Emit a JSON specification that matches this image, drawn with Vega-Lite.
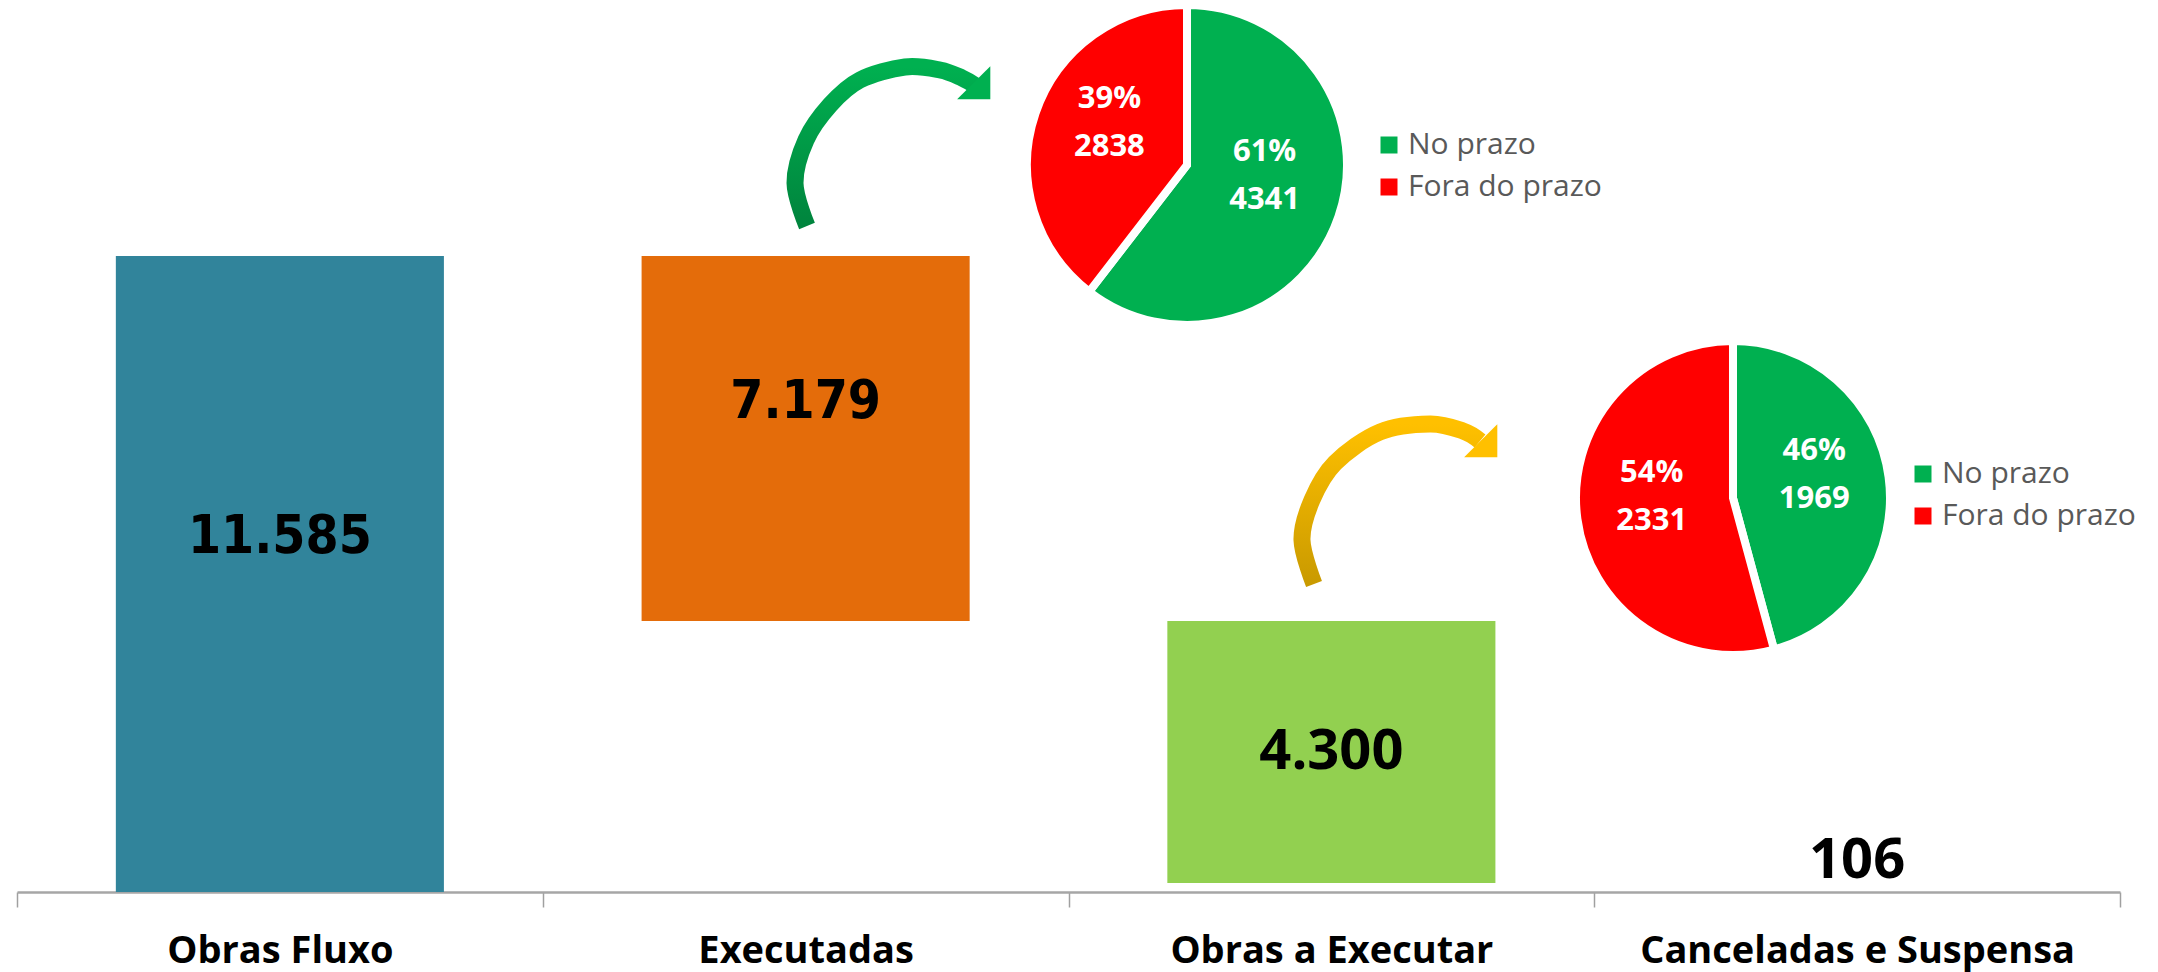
{
  "$schema": "https://vega.github.io/schema/vega-lite/v6.json",
  "width": 2103,
  "height": 892,
  "autosize": {"type": "none"},
  "padding": {"left": 17, "top": 0, "right": 38, "bottom": 80},
  "background": "white",
  "config": {"view": {"stroke": null}},
  "datasets": {
    "bars": [
      {"cat": "Obras Fluxo", "start": 0, "end": 11585, "label": "11.585"},
      {"cat": "Executadas", "start": 4936, "end": 11585, "label": "7.179"},
      {"cat": "Obras a Executar", "start": 164, "end": 4936, "label": "4.300"},
      {"cat": "Canceladas e Suspensa", "start": 0, "end": 106, "label": "106"}
    ],
    "pies": [
      {"pie": "Executadas", "status": "No prazo", "n": 4341, "label": "61%\n4341", "ord": 1, "cx": 2.2254, "cy": 13243},
      {"pie": "Executadas", "status": "Fora do prazo", "n": 2838, "label": "39%\n2838", "ord": 2, "cx": 2.2254, "cy": 13243},
      {"pie": "Obras a Executar", "status": "No prazo", "n": 1969, "label": "46%\n1969", "ord": 1, "cx": 3.2639, "cy": 7177},
      {"pie": "Obras a Executar", "status": "Fora do prazo", "n": 2331, "label": "54%\n2331", "ord": 2, "cx": 3.2639, "cy": 7177}
    ],
    "arrows": [
      {"arrow": "g", "i": 1, "ax": 1.5026, "ay": 12131},
      {"arrow": "g", "i": 2, "ax": 1.4798, "ay": 12915},
      {"arrow": "g", "i": 3, "ax": 1.5007, "ay": 13698},
      {"arrow": "g", "i": 4, "ax": 1.5464, "ay": 14335},
      {"arrow": "g", "i": 5, "ax": 1.6034, "ay": 14791},
      {"arrow": "g", "i": 6, "ax": 1.6890, "ay": 15028},
      {"arrow": "g", "i": 7, "ax": 1.7556, "ay": 14973},
      {"arrow": "g", "i": 8, "ax": 1.7974, "ay": 14827},
      {"arrow": "g", "i": 9, "ax": 1.8241, "ay": 14682},
      {"arrow": "o", "i": 1, "ax": 2.4670, "ay": 5610},
      {"arrow": "o", "i": 2, "ax": 2.4441, "ay": 6412},
      {"arrow": "o", "i": 3, "ax": 2.4631, "ay": 7140},
      {"arrow": "o", "i": 4, "ax": 2.5069, "ay": 7814},
      {"arrow": "o", "i": 5, "ax": 2.5925, "ay": 8379},
      {"arrow": "o", "i": 6, "ax": 2.6876, "ay": 8525},
      {"arrow": "o", "i": 7, "ax": 2.7504, "ay": 8397},
      {"arrow": "o", "i": 8, "ax": 2.7827, "ay": 8215}
    ],
    "heads": [
      {"arrow": "g", "ax": 1.8355, "ay": 14590},
      {"arrow": "o", "ax": 2.7998, "ay": 8069}
    ]
  },
  "layer": [
    {
      "data": {"name": "bars"},
      "transform": [{"calculate": "(datum.start + datum.end) / 2", "as": "mid"}],
      "encoding": {
        "x": {
          "field": "cat", "type": "nominal", "sort": null, "title": null,
          "scale": {"paddingInner": 0, "paddingOuter": 0},
          "axis": {
            "labelAngle": 0, "labelFont": "Open Sans", "labelFontWeight": "bold",
            "labelFontSize": 38, "labelColor": "#000000", "labelPadding": 25, "labelLimit": 800,
            "tickBand": "extent", "tickSize": 15, "tickColor": "#a0a0a0", "tickWidth": 1.5,
            "domainColor": "#a6a6a6", "domainWidth": 2.5, "grid": false
          }
        }
      },
      "layer": [
        {
          "mark": {"type": "bar", "width": {"band": 0.624}},
          "encoding": {
            "y": {"field": "start", "type": "quantitative", "scale": {"domain": [0, 16248], "nice": false, "zero": false}, "axis": null},
            "y2": {"field": "end"},
            "color": {
              "field": "cat", "type": "nominal", "legend": null,
              "scale": {"domain": ["Obras Fluxo", "Executadas", "Obras a Executar", "Canceladas e Suspensa"],
                        "range": ["#31849b", "#e46c0a", "#92d050", "rgba(0,0,0,0)"]}
            }
          }
        },
        {
          "transform": [{"filter": "datum.cat === 'Obras Fluxo' || datum.cat === 'Executadas'"}],
          "mark": {"type": "text", "font": "DejaVu Sans Condensed, DejaVu Sans", "fontWeight": "bold", "fontSize": 53, "baseline": "middle", "dy": -37, "color": "#000000"},
          "encoding": {
            "y": {"field": "mid", "type": "quantitative", "scale": {"domain": [0, 16248], "nice": false, "zero": false}, "axis": null},
            "text": {"field": "label"}
          }
        },
        {
          "transform": [{"filter": "datum.cat === 'Obras a Executar'"}],
          "mark": {"type": "text", "font": "Open Sans", "fontWeight": "bold", "fontSize": 56, "baseline": "middle", "color": "#000000"},
          "encoding": {
            "y": {"field": "mid", "type": "quantitative", "scale": {"domain": [0, 16248], "nice": false, "zero": false}, "axis": null},
            "text": {"field": "label"}
          }
        },
        {
          "transform": [{"filter": "datum.cat === 'Canceladas e Suspensa'"}],
          "mark": {"type": "text", "font": "Open Sans", "fontWeight": "bold", "fontSize": 56, "baseline": "alphabetic", "dy": -8, "color": "#000000"},
          "encoding": {
            "y": {"field": "end", "type": "quantitative", "scale": {"domain": [0, 16248], "nice": false, "zero": false}, "axis": null},
            "text": {"field": "label"}
          }
        }
      ]
    },
    {
      "resolve": {"scale": {"color": "independent", "theta": "independent"}},
      "layer": [
        {
          "data": {"name": "pies"},
          "transform": [{"filter": "datum.pie === 'Executadas'"}],
          "encoding": {
            "x": {"field": "cx", "type": "quantitative", "scale": {"domain": [0, 4], "nice": false, "zero": false}, "axis": null},
            "y": {"field": "cy", "type": "quantitative", "scale": {"domain": [0, 16248], "nice": false, "zero": false}, "axis": null},
            "theta": {"field": "n", "type": "quantitative", "stack": true},
            "order": {"field": "ord", "type": "quantitative"}
          },
          "layer": [
            {
              "mark": {"type": "arc", "outerRadius": 160, "stroke": "white", "strokeWidth": 8},
              "encoding": {
                "color": {
                  "field": "status", "type": "nominal",
                  "scale": {"domain": ["No prazo", "Fora do prazo"], "range": ["#00b050", "#ff0000"]},
                  "legend": {
                    "title": null, "orient": "none", "legendX": 1357, "legendY": 130, "padding": 0,
                    "symbolType": "square", "symbolSize": 289, "symbolStrokeWidth": 0,
                    "labelFont": "Open Sans", "labelFontSize": 30, "labelColor": "#595959", "labelLimit": 600,
                    "labelOffset": 4, "rowPadding": 12
                  }
                }
              }
            },
            {
              "mark": {"type": "text", "radius": 82, "dy": -39, "font": "Open Sans", "fontWeight": "bold", "fontSize": 31, "color": "white", "lineBreak": "\n", "lineHeight": 48, "baseline": "middle"},
              "encoding": {
                "detail": {"field": "status", "type": "nominal"},
                "text": {"field": "label"}
              }
            }
          ]
        },
        {
          "data": {"name": "pies"},
          "transform": [{"filter": "datum.pie === 'Obras a Executar'"}],
          "encoding": {
            "x": {"field": "cx", "type": "quantitative", "scale": {"domain": [0, 4], "nice": false, "zero": false}, "axis": null},
            "y": {"field": "cy", "type": "quantitative", "scale": {"domain": [0, 16248], "nice": false, "zero": false}, "axis": null},
            "theta": {"field": "n", "type": "quantitative", "stack": true},
            "order": {"field": "ord", "type": "quantitative"}
          },
          "layer": [
            {
              "mark": {"type": "arc", "outerRadius": 157, "stroke": "white", "strokeWidth": 8},
              "encoding": {
                "color": {
                  "field": "status", "type": "nominal",
                  "scale": {"domain": ["No prazo", "Fora do prazo"], "range": ["#00b050", "#ff0000"]},
                  "legend": {
                    "title": null, "orient": "none", "legendX": 1891, "legendY": 459, "padding": 0,
                    "symbolType": "square", "symbolSize": 289, "symbolStrokeWidth": 0,
                    "labelFont": "Open Sans", "labelFontSize": 30, "labelColor": "#595959", "labelLimit": 600,
                    "labelOffset": 4, "rowPadding": 12
                  }
                }
              }
            },
            {
              "mark": {"type": "text", "radius": 82, "dy": -36, "font": "Open Sans", "fontWeight": "bold", "fontSize": 31, "color": "white", "lineBreak": "\n", "lineHeight": 48, "baseline": "middle"},
              "encoding": {
                "detail": {"field": "status", "type": "nominal"},
                "text": {"field": "label"}
              }
            }
          ]
        },
        {
          "data": {"name": "arrows"},
          "transform": [{"filter": "datum.arrow === 'g'"}],
          "mark": {"type": "line", "interpolate": "cardinal", "strokeWidth": 17, "strokeCap": "butt",
                   "stroke": {"gradient": "linear", "x1": 0, "y1": 1, "x2": 0, "y2": 0,
                              "stops": [{"offset": 0, "color": "#00843d"}, {"offset": 1, "color": "#00b050"}]}},
          "encoding": {
            "x": {"field": "ax", "type": "quantitative", "scale": {"domain": [0, 4], "nice": false, "zero": false}, "axis": null},
            "y": {"field": "ay", "type": "quantitative", "scale": {"domain": [0, 16248], "nice": false, "zero": false}, "axis": null},
            "order": {"field": "i", "type": "quantitative"}
          }
        },
        {
          "data": {"name": "arrows"},
          "transform": [{"filter": "datum.arrow === 'o'"}],
          "mark": {"type": "line", "interpolate": "cardinal", "strokeWidth": 17, "strokeCap": "butt",
                   "stroke": {"gradient": "linear", "x1": 0, "y1": 1, "x2": 0, "y2": 0,
                              "stops": [{"offset": 0, "color": "#c99a00"}, {"offset": 1, "color": "#ffc000"}]}},
          "encoding": {
            "x": {"field": "ax", "type": "quantitative", "scale": {"domain": [0, 4], "nice": false, "zero": false}, "axis": null},
            "y": {"field": "ay", "type": "quantitative", "scale": {"domain": [0, 16248], "nice": false, "zero": false}, "axis": null},
            "order": {"field": "i", "type": "quantitative"}
          }
        },
        {
          "data": {"name": "heads"},
          "transform": [{"filter": "datum.arrow === 'g'"}],
          "mark": {"type": "point", "shape": "M -0.5 -1 L 0.5 0 L -0.5 1 Z", "filled": true, "size": 2200, "angle": 45, "color": "#00b050", "opacity": 1},
          "encoding": {
            "x": {"field": "ax", "type": "quantitative", "scale": {"domain": [0, 4], "nice": false, "zero": false}, "axis": null},
            "y": {"field": "ay", "type": "quantitative", "scale": {"domain": [0, 16248], "nice": false, "zero": false}, "axis": null}
          }
        },
        {
          "data": {"name": "heads"},
          "transform": [{"filter": "datum.arrow === 'o'"}],
          "mark": {"type": "point", "shape": "M -0.5 -1 L 0.5 0 L -0.5 1 Z", "filled": true, "size": 2200, "angle": 45, "color": "#ffc000", "opacity": 1},
          "encoding": {
            "x": {"field": "ax", "type": "quantitative", "scale": {"domain": [0, 4], "nice": false, "zero": false}, "axis": null},
            "y": {"field": "ay", "type": "quantitative", "scale": {"domain": [0, 16248], "nice": false, "zero": false}, "axis": null}
          }
        }
      ]
    }
  ],
  "resolve": {"scale": {"x": "independent", "color": "independent"}}
}
